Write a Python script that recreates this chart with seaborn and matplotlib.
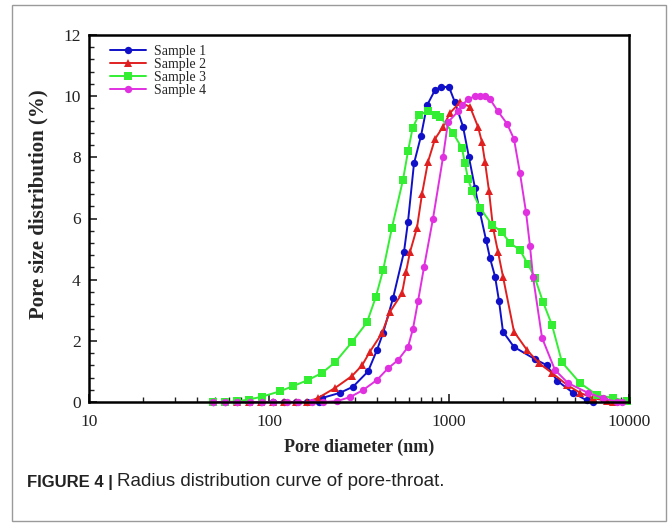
import numpy as np
import pandas as pd
import matplotlib
matplotlib.use('Agg')
import matplotlib.pyplot as plt
import seaborn as sns
from matplotlib.ticker import FixedLocator, LogLocator, NullFormatter, MultipleLocator
from matplotlib.patches import Rectangle

sns.set_theme(style='ticks')
plt.rcParams['font.family'] = ['Liberation Serif', 'DejaVu Serif']

# valores (diametro en nm, distribucion en %)
s1_x = [49, 57, 66, 77, 90, 105, 121, 141, 163, 190, 197, 248, 293, 355, 398, 430, 489,
        562, 592, 639, 699, 755, 836, 903, 1000, 1079, 1197, 1291, 1394, 1486, 1606,
        1690, 1803, 1896, 1995, 2296, 3005, 3500, 3981, 4887, 5843, 6310]
s1_y = [0, 0, 0, 0, 0, 0, 0, 0, 0, 0, 0.13, 0.3, 0.5, 1.0, 1.7, 2.25, 3.4,
        4.9, 5.9, 7.8, 8.7, 9.7, 10.2, 10.3, 10.3, 9.8, 9.0, 8.0, 7.0, 6.2, 5.3,
        4.7, 4.1, 3.3, 2.3, 1.8, 1.4, 1.2, 0.7, 0.3, 0.05, 0]

s2_x = [49, 57, 66, 77, 90, 105, 121, 141, 163, 187, 233, 289, 329, 364, 424, 470, 548,
        577, 607, 664, 708, 764, 836, 926, 1013, 1151, 1309, 1449, 1524, 1585, 1668,
        1756, 1873, 1995, 2296, 2712, 3162, 3733, 4525, 5344, 6310, 7547, 8147]
s2_y = [0, 0, 0, 0, 0, 0, 0, 0, 0, 0.13, 0.46, 0.85, 1.2, 1.65, 2.25, 2.95, 3.55,
        4.25, 4.9, 5.7, 6.8, 7.85, 8.6, 9.0, 9.45, 9.8, 9.65, 9.0, 8.5, 7.85, 6.9,
        5.7, 4.9, 4.1, 2.3, 1.7, 1.27, 0.95, 0.56, 0.3, 0.13, 0.03, 0]

s3_x = [49, 57, 66, 77, 91, 115, 136, 165, 197, 233, 289, 350, 392, 430, 482, 555, 592,
        628, 681, 764, 847, 891, 1052, 1180, 1227, 1275, 1343, 1486, 1733, 1969, 2183,
        2477, 2748, 3005, 3329, 3733, 4244, 5344, 6642, 8147, 9750]
s3_y = [0, 0, 0.02, 0.08, 0.17, 0.35, 0.52, 0.72, 0.95, 1.3, 1.96, 2.6, 3.43, 4.3, 5.7, 7.26, 8.2,
        8.96, 9.4, 9.5, 9.4, 9.33, 8.8, 8.3, 7.8, 7.3, 6.9, 6.35, 5.8, 5.55, 5.2,
        4.97, 4.5, 4.05, 3.27, 2.52, 1.3, 0.62, 0.23, 0.13, 0.03]

s4_x = [49, 57, 66, 78, 91, 105, 126, 145, 173, 200, 239, 282, 333, 398, 458, 521, 592,
        631, 673, 726, 815, 926, 987, 1122, 1180, 1275, 1394, 1486, 1585, 1690, 1873,
        2100, 2296, 2477, 2679, 2818, 2928, 3287, 3877, 4581, 5913, 7172, 8577, 9141]
s4_y = [0, 0, 0, 0, 0, 0, 0, 0, 0, 0, 0.03, 0.16, 0.39, 0.72, 1.1, 1.37, 1.8,
        2.4, 3.3, 4.4, 6.0, 8.0, 9.15, 9.5, 9.7, 9.9, 10.0, 10.0, 10.0, 9.9, 9.5,
        9.1, 8.6, 7.5, 6.2, 5.1, 4.1, 2.1, 1.05, 0.62, 0.3, 0.13, 0, 0]

series = [
    ('Sample 1', s1_x, s1_y, '#1010c8', 'o'),
    ('Sample 2', s2_x, s2_y, '#e02020', '^'),
    ('Sample 3', s3_x, s3_y, '#33ee33', 's'),
    ('Sample 4', s4_x, s4_y, '#e030e0', 'o'),
]

fig = plt.figure(figsize=(6.72, 5.23), dpi=100)
ax = fig.add_axes([89 / 672, 1 - 402 / 523, 540 / 672, 367 / 523])

for nombre, xs, ys, color, mk in series:
    df = pd.DataFrame({'x': xs, 'y': ys})
    sns.lineplot(data=df, x='x', y='y', ax=ax, color=color, marker=mk, markersize=5.3,
                 markeredgewidth=0, linewidth=1.4, label=nombre, clip_on=False)

ax.set_xscale('log')
ax.set_xlim(10, 10000)
ax.set_ylim(0, 12)
ax.xaxis.set_major_locator(FixedLocator([10, 100, 1000, 10000]))
ax.set_xticklabels(['10', '100', '1000', '10000'])
ax.xaxis.set_minor_locator(LogLocator(base=10, subs=np.arange(2, 10)))
ax.xaxis.set_minor_formatter(NullFormatter())
ax.yaxis.set_major_locator(MultipleLocator(2))
ax.yaxis.set_minor_locator(MultipleLocator(0.4))

ax.tick_params(which='both', direction='in', top=False, right=False, labelsize=12.5, colors='#222222')
ax.tick_params(which='major', length=6, width=1.2)
ax.tick_params(which='minor', length=3.5, width=1)
ax.tick_params(axis='x', which='major', pad=9)
ax.tick_params(axis='y', which='major', pad=6)
for sp in ax.spines.values():
    sp.set_linewidth(1.8)
    sp.set_color('black')

ax.set_xlabel('Pore diameter (nm)', fontsize=13, fontweight='bold', labelpad=6)
ax.set_ylabel('Pore size distribution (%)', fontsize=15, fontweight='bold')
ax.yaxis.set_label_coords(-0.075, 0.54)

ax.legend(loc='upper left', bbox_to_anchor=(0.02, 1.0), frameon=False, fontsize=10,
          handlelength=2.6, labelspacing=0.0, handletextpad=0.6, borderpad=0.2)

fig.patches.append(Rectangle((12 / 672, 1 - 521 / 523), 654 / 672, 516 / 523,
                             transform=fig.transFigure, fill=False, edgecolor='#9a9a9a', linewidth=1))
fig.text(27 / 672, 1 - 482 / 523, 'FIGURE 4 |', fontsize=12, fontweight='bold',
         family=['Liberation Sans', 'DejaVu Sans'], va='center', color='#222222')
fig.text(117 / 672, 1 - 482 / 523, 'Radius distribution curve of pore-throat.', fontsize=13.5,
         family=['Liberation Sans', 'DejaVu Sans'], va='center', color='#222222')

fig.savefig('out.png', dpi=100)
